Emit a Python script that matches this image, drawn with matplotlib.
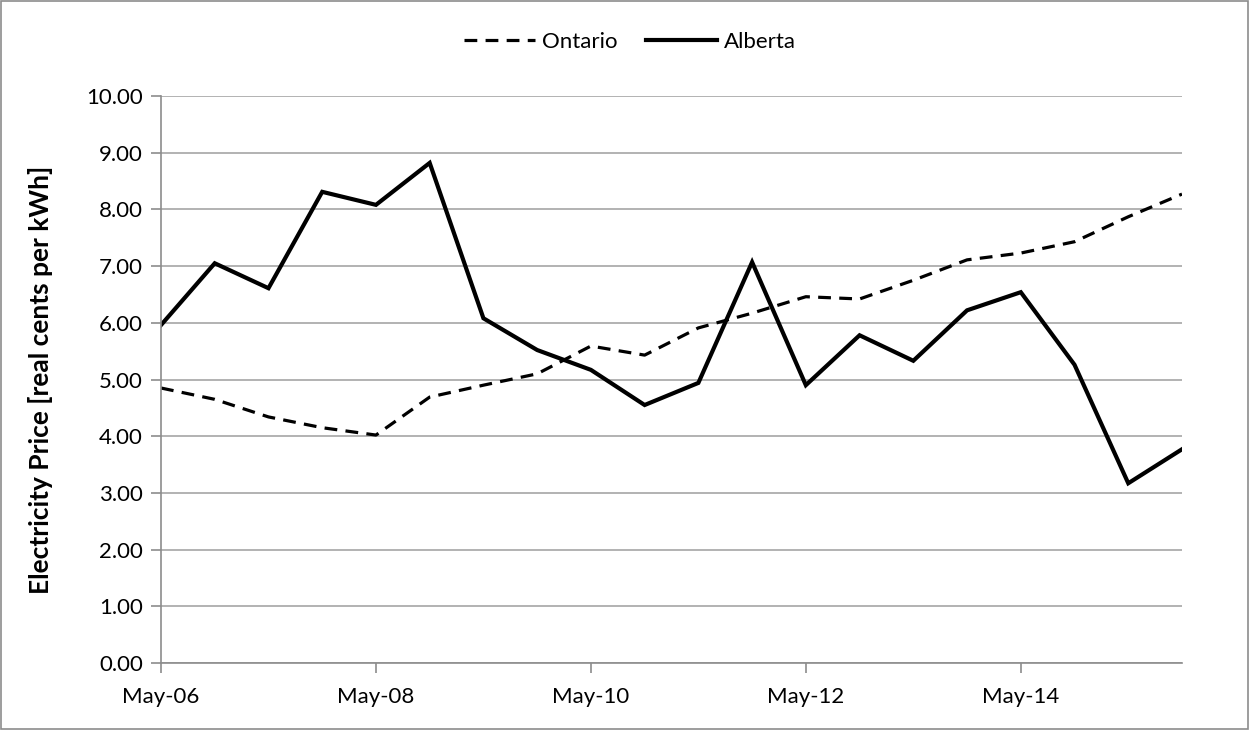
import matplotlib.pyplot as plt
from matplotlib.patches import Rectangle

## data (semi-annual, May-06 .. Nov-15)
periods = list(range(20))
tick_pos = [0, 4, 8, 12, 16]
tick_labels = ['May-06', 'May-08', 'May-10', 'May-12', 'May-14']

ontario = [4.85, 4.65, 4.34, 4.15, 4.02, 4.69, 4.90, 5.10, 5.59, 5.43,
           5.91, 6.17, 6.46, 6.42, 6.75, 7.11, 7.23, 7.43, 7.87, 8.27]
alberta = [5.96, 7.05, 6.61, 8.31, 8.08, 8.82, 6.08, 5.52, 5.17, 4.55,
           4.94, 7.07, 4.90, 5.78, 5.33, 6.22, 6.54, 5.26, 3.17, 3.77]

plt.rcParams['font.family'] = ['Lato', 'DejaVu Sans']

fig = plt.figure(figsize=(12.5, 7.3), dpi=100)
ax = fig.add_axes([161 / 1250, 1 - 663 / 730, (1182 - 161) / 1250, (663 - 96) / 730])

ax.plot(periods, ontario, color='black', lw=2.3, dashes=(4, 2.6), label='Ontario')
ax.plot(periods, alberta, color='black', lw=3.0, label='Alberta', solid_joinstyle='miter')

ax.set_xlim(0, 19)
ax.set_ylim(0, 10)
ax.set_yticks(range(11))
ax.set_yticklabels(['%.2f' % v for v in range(11)])
ax.set_xticks(tick_pos)
ax.set_xticklabels(tick_labels)

ax.grid(axis='y', color='#a6a6a6', lw=1.2)
ax.set_axisbelow(True)
for s in ['top', 'right']:
    ax.spines[s].set_visible(False)
for s in ['left', 'bottom']:
    ax.spines[s].set_color('#8c8c8c')
    ax.spines[s].set_linewidth(1.2)
ax.tick_params(axis='both', colors='#8c8c8c', length=7, width=1.2, labelsize=16,
               labelcolor='black')
ax.tick_params(axis='x', pad=10)
ax.tick_params(axis='y', pad=6)

ax.set_ylabel('Electricity Price [real cents per kWh]', fontsize=19, fontweight='bold')
ax.yaxis.set_label_coords(-(161 - 53) / 1021, 0.5)

fig.legend(loc='center', bbox_to_anchor=(630 / 1250, 1 - 42 / 730), ncol=2, frameon=False,
           fontsize=16, handlelength=3.2, columnspacing=1.3, handletextpad=0.3)

fig.patches.append(Rectangle((0.001, 0.001), 0.997, 0.997, transform=fig.transFigure,
                             fill=False, edgecolor='#8c8c8c', lw=1.2))

fig.savefig('out.png', dpi=100)
